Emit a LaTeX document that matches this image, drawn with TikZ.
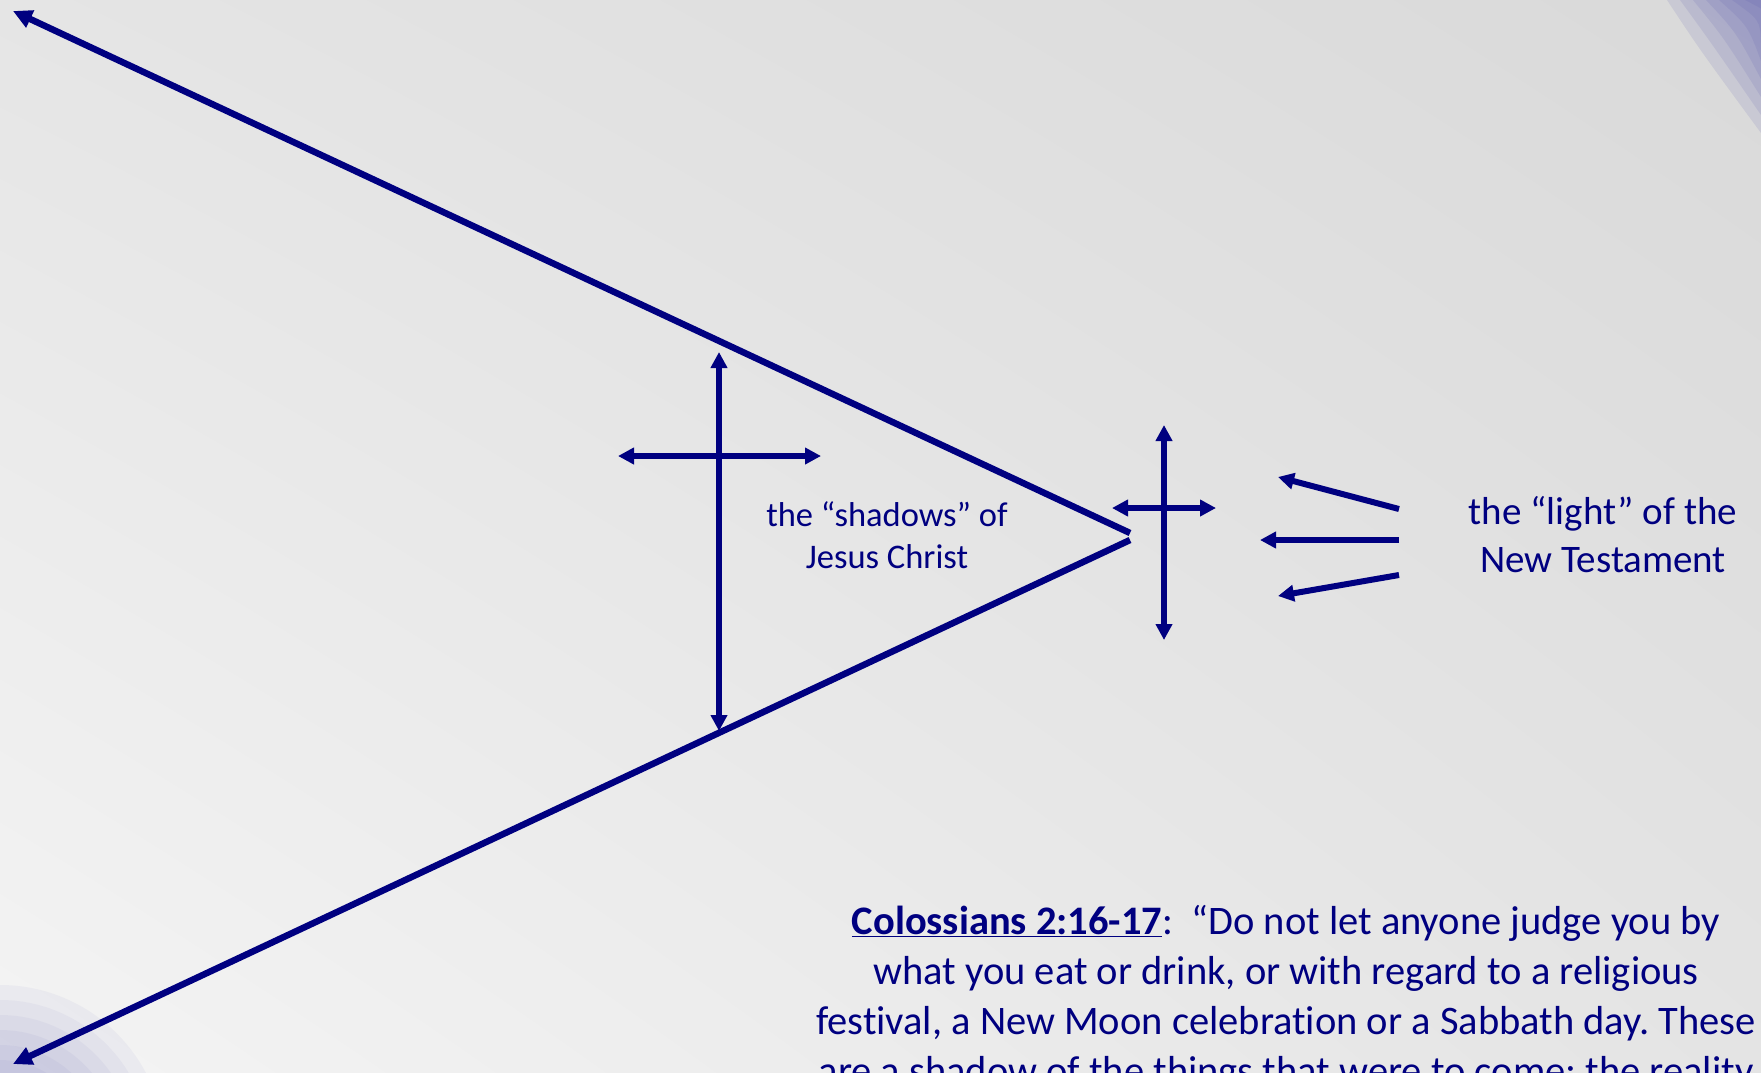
\documentclass[tikz,border=0pt]{standalone}
\usepackage{fontspec}
\setmainfont{Carlito}[Ligatures=NoCommon]
\frenchspacing
\definecolor{navy1}{RGB}{0, 0, 128}
\definecolor{swoosh}{RGB}{80, 80, 170}
\definecolor{bgtl}{RGB}{229, 229, 229}
\definecolor{bgtr}{RGB}{217, 217, 217}
\definecolor{bgbl}{RGB}{244, 244, 244}
\definecolor{bgbr}{RGB}{228, 228, 228}
\usepackage{tikz}
\usetikzlibrary{arrows.meta, positioning, shadings}

\begin{document}
\begin{tikzpicture}[x=1pt, y=-1pt,
  bigline/.style={navy1, line width=6.5pt, -{Triangle[length=19pt, width=18pt]}},
  crossarr/.style={navy1, line width=5.5pt, {Triangle[length=16pt, width=16pt]}-{Triangle[length=16pt, width=16pt]}},
  lightarr/.style={navy1, line width=6pt, -{Triangle[length=16pt, width=16pt]}},
  lbl/.style={navy1, align=center, inner sep=0pt}
]
  \useasboundingbox (0, 0) rectangle (1761, 1072);
  \clip (0, 0) rectangle (1761, 1072);
  \shade[upper left=bgtl, upper right=bgtr, lower left=bgbl, lower right=bgbr] (0, 0) rectangle (1761, 1072);

  % corner swooshes
  \foreach \i in {0,...,6}
    \fill[swoosh, opacity=0.12] (1667+13*\i, 0) .. controls (1700+12*\i, 50-6*\i) .. (1761, 133-18*\i) -- (1761, 0) -- cycle;
  \foreach \r in {165, 150, 135, 120, 105, 90}
    \fill[swoosh, opacity=0.05] (0, 1150) circle (\r);

  % the two rays
  \coordinate (apexU) at (1130, 533);
  \coordinate (apexL) at (1130, 540);
  \coordinate (farU) at (13, 11);
  \coordinate (farL) at (13, 1064);
  \draw[bigline] (apexU) -- (farU);
  \draw[bigline] (apexL) -- (farL);

  % cross in the shadows
  \coordinate (crossAtop) at (719, 352);
  \coordinate (crossAbot) at (719, 731);
  \coordinate (crossAleft) at (618, 456);
  \coordinate (crossAright) at (821, 456);
  \draw[crossarr] (crossAbot) -- (crossAtop);
  \draw[crossarr] (crossAleft) -- (crossAright);

  % cross in the light
  \coordinate (crossBtop) at (1164, 425);
  \coordinate (crossBbot) at (1164, 640);
  \coordinate (crossBleft) at (1112, 508);
  \coordinate (crossBright) at (1216, 508);
  \draw[crossarr] (crossBbot) -- (crossBtop);
  \draw[crossarr] (crossBleft) -- (crossBright);

  % labels
  \node[lbl, font=\fontsize{34.5}{42}\selectfont] (shadows) at (887, 535) {the “shadows” of\\Jesus Christ};
  \node[lbl, font=\fontsize{39}{48}\selectfont] (light) at (1603, 535) {the “light” of the\\New Testament};

  % rays of light
  \coordinate (srcA) at (1399, 509);
  \coordinate (srcB) at (1399, 540);
  \coordinate (srcC) at (1399, 575);
  \coordinate (dstA) at (1278, 477);
  \coordinate (dstB) at (1260, 540);
  \coordinate (dstC) at (1278, 596);
  \draw[lightarr] (srcA) -- (dstA);
  \draw[lightarr] (srcB) -- (dstB);
  \draw[lightarr] (srcC) -- (dstC);

  \node[lbl, anchor=north, font=\fontsize{40.5}{50}\selectfont] (verse) at (1286, 905)
    {\underline{\textbf{Colossians 2:16-17}}:\ \ “Do not let anyone judge you by\\
     what you eat or drink, or with regard to a religious\\
     festival, a New Moon celebration or a Sabbath day. These\\
     are a shadow of the things that were to come; the reality};
\end{tikzpicture}
\end{document}
